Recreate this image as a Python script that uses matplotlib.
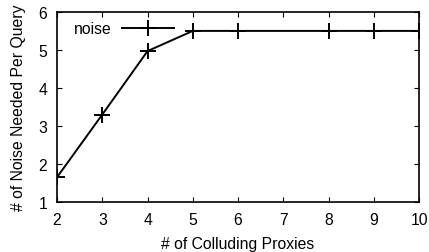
import matplotlib
matplotlib.use("Agg")
import matplotlib.pyplot as plt

proxies = [2, 3, 4, 5, 6, 8, 9, 10]
noise = [1.65, 3.3, 4.97, 5.5, 5.5, 5.5, 5.5, 5.5]
xticks = [2, 3, 4, 5, 6, 7, 8, 9, 10]
yticks = [1, 2, 3, 4, 5, 6]

plt.rcParams['font.family'] = ['Liberation Sans', 'DejaVu Sans']
plt.rcParams['font.size'] = 11.3

fig = plt.figure(figsize=(4.29, 2.53), dpi=100)
ax = fig.add_axes([0.133, 0.198, 0.844, 0.751])

ax.plot(proxies, noise, color='black', linewidth=1.4, marker='+',
        markersize=11, markeredgewidth=1.4, label='noise')

ax.set_xlim(2, 10)
ax.set_ylim(1, 6)
ax.set_xticks(xticks)
ax.set_yticks(yticks)
ax.tick_params(direction='in', top=True, right=True, length=3.5, width=0.8, pad=7)
for s in ax.spines.values():
    s.set_linewidth(1.2)

ax.set_xlabel('# of Colluding Proxies', labelpad=7)
ax.set_ylabel('# of Noise Needed Per Query', labelpad=9)

ax.legend(loc='upper left', frameon=False, markerfirst=False, handlelength=3.3,
          handletextpad=0.7, borderaxespad=0.2, bbox_to_anchor=(0.02, 1.0))

fig.savefig('out.png', dpi=100)
